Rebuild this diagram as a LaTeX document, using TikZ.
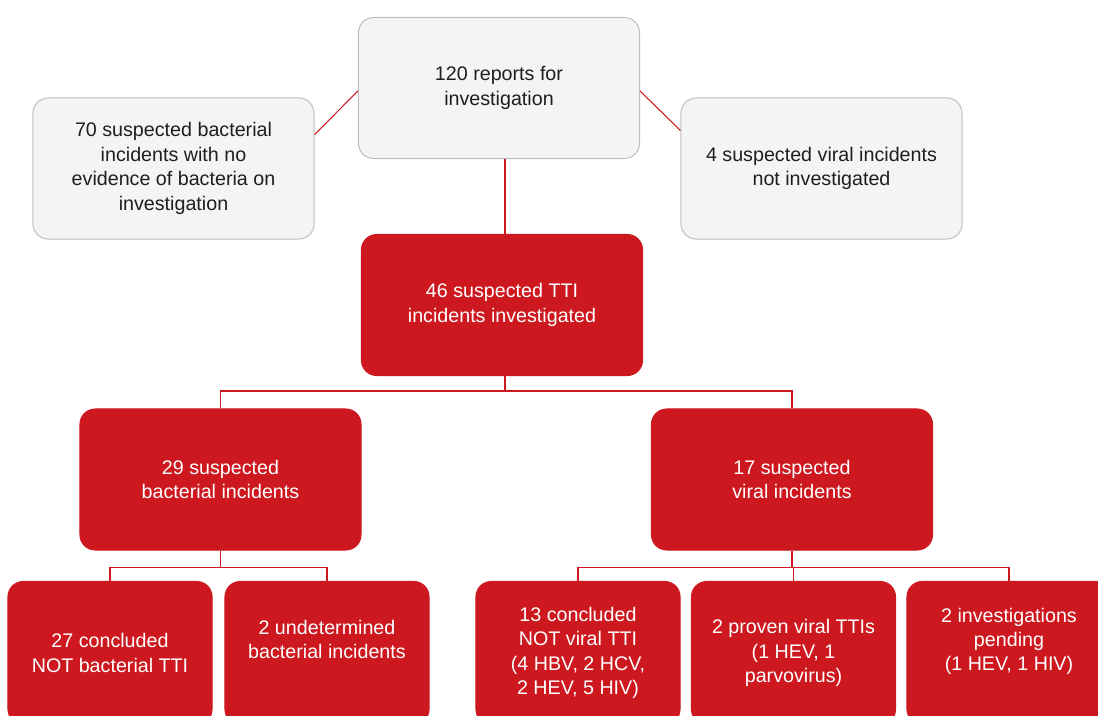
\documentclass[tikz,border=0pt]{standalone}
\usepackage{fontspec}
\setmainfont{Liberation Sans}
\usetikzlibrary{calc}
\definecolor{ttired}{RGB}{204,24,30}
\definecolor{boxgrey}{RGB}{244,244,244}
\definecolor{edgegrey}{RGB}{190,190,190}
\definecolor{inkgrey}{RGB}{30,30,30}

\begin{document}
\begin{tikzpicture}[x=0.025cm, y=-0.025cm,
  greybox/.style={draw=edgegrey, fill=boxgrey, line width=0.7pt, rounded corners=0.38cm,
    minimum width=7.025cm, minimum height=3.525cm, align=center, text=inkgrey,
    font=\fontsize{14}{17.4}\selectfont},
  redbox/.style={greybox, draw=ttired, fill=ttired, text=white},
  leafbox/.style={redbox, minimum width=5.1cm, minimum height=3.575cm},
  link/.style={ttired, line width=0.75pt}]
  \useasboundingbox (0,0) rectangle (1098,716);
  \clip (0,0) rectangle (1098,716);
  % top row
  \node[greybox] (reports) at (499,88) {120 reports for\\investigation};
  \node[greybox] (nobact) at (173.5,168.5) {70 suspected bacterial\\incidents with no\\evidence of bacteria on\\investigation};
  \node[greybox] (noviral) at (821.5,168.5) {4 suspected viral incidents\\not investigated};
  % investigated
  \node[redbox] (invest) at (502,305) {46 suspected TTI\\incidents investigated};
  \node[redbox] (bact) at (220.5,479.5) {29 suspected\\bacterial incidents};
  \node[redbox] (viral) at (792,479.5) {17 suspected\\viral incidents};
  % leaves
  \node[leafbox] (notbact) at (110,653) {27 concluded\\NOT bacterial TTI};
  \node[leafbox] (undet) at (327,653) {2 undetermined\\bacterial incidents\\[2pt]};
  \node[leafbox] (notviral) at (578,653) {13 concluded\\NOT viral TTI\\(4 HBV, 2 HCV,\\2 HEV, 5 HIV)};
  \node[leafbox] (proven) at (793.5,653) {2 proven viral TTIs\\(1 HEV, 1\\parvovirus)};
  \node[leafbox] (pending) at (1009,653) {2 investigations\\pending\\(1 HEV, 1 HIV)\\[2pt]};

  % connectors
  \draw[link] ($(reports.west)+(0,3)$) -- ($(nobact.east)+(0,-34)$);
  \draw[link] ($(reports.east)+(0,3)$) -- ($(noviral.west)+(0,-38)$);
  \draw[link] (invest.north -| 505,0) -- (reports.south -| 505,0);
  \draw[link] (invest.south -| 505,0) -- ++(0,15) coordinate (isplit);
  \draw[link] (isplit) -| (bact.north);
  \draw[link] (isplit) -| (viral.north);
  \draw[link] (bact.south) -- ++(0,17) coordinate (bsplit);
  \draw[link] (bsplit) -| (notbact.north);
  \draw[link] (bsplit) -| (undet.north);
  \draw[link] (viral.south) -- ++(0,17) coordinate (vsplit);
  \draw[link] (vsplit) -| (notviral.north);
  \draw[link] (vsplit -| proven.north) -- (proven.north);
  \draw[link] (vsplit) -| (pending.north);
\end{tikzpicture}
\end{document}
